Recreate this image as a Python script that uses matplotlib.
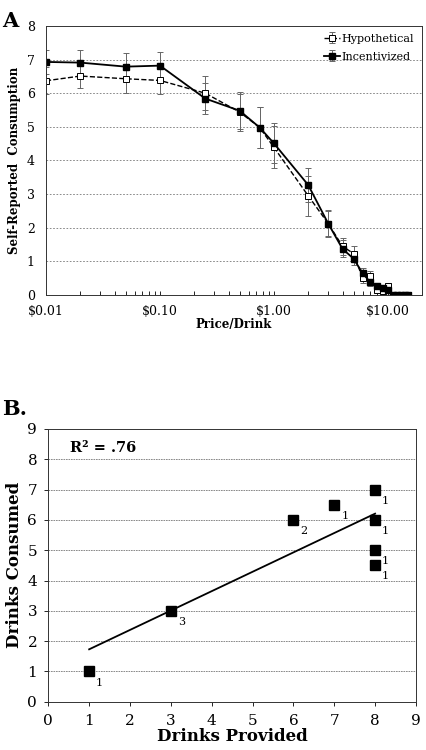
import numpy as np
import matplotlib
matplotlib.use("Agg")
import matplotlib.pyplot as plt
from matplotlib.ticker import FixedLocator, LogLocator, NullFormatter

plt.rcParams["font.family"] = ["DejaVu Serif"]

# Panel A: purchase task demand curves
prices = [0.01, 0.02, 0.05, 0.10, 0.25, 0.50, 0.75, 1, 2, 3, 4, 5, 6, 7, 8, 9, 10,
          11, 12, 13, 14, 15]
hyp_mean = [6.37, 6.51, 6.43, 6.38, 6.00, 5.44, 4.98, 4.39, 2.95, 2.12, 1.45, 1.23,
            0.50, 0.55, 0.15, 0.12, 0.28, 0, 0, 0, 0, 0]
hyp_err = [0.40, 0.36, 0.43, 0.41, 0.50, 0.55, 0.60, 0.62, 0.60, 0.38, 0.25, 0.22,
           0.15, 0.15, 0.08, 0.08, 0.08, 0, 0, 0, 0, 0]
inc_mean = [6.93, 6.91, 6.79, 6.82, 5.84, 5.48, 4.98, 4.51, 3.27, 2.12, 1.37, 1.08,
            0.65, 0.38, 0.26, 0.21, 0.16, 0, 0, 0, 0, 0]
inc_err = [0.36, 0.38, 0.40, 0.41, 0.45, 0.55, 0.62, 0.60, 0.50, 0.40, 0.25, 0.20,
           0.15, 0.10, 0.08, 0.08, 0.06, 0, 0, 0, 0, 0]
price_ticks = [0.01, 0.1, 1, 10]
price_labels = ["$0.01", "$0.10", "$1.00", "$10.00"]

# Panel B: drinks provided vs consumed, with participant counts
provided = [1, 3, 6, 7, 8, 8, 8, 8]
consumed = [1, 3, 6, 6.5, 7, 6, 5, 4.5]
counts = [1, 3, 2, 1, 1, 1, 1, 1]

fig = plt.figure(figsize=(4.26, 7.5), dpi=100)

# ---- Panel A ----
ax = fig.add_axes([0.108, 0.6067, 0.883, 0.3587])
ax.errorbar(prices, hyp_mean, yerr=hyp_err, color="black", linestyle="--",
            linewidth=1.0, marker="s", markersize=4.5, markerfacecolor="white",
            markeredgecolor="black", markeredgewidth=0.7, ecolor="#666666",
            elinewidth=0.7, capsize=2, capthick=0.7, label="Hypothetical")
ax.errorbar(prices, inc_mean, yerr=inc_err, color="black", linestyle="-",
            linewidth=1.3, marker="s", markersize=5, markerfacecolor="black",
            markeredgecolor="black", ecolor="#666666", elinewidth=0.7,
            capsize=2, capthick=0.7, label="Incentivized")
ax.set_xscale("log")
ax.set_xlim(0.01, 20)
ax.set_ylim(0, 8)
ax.xaxis.set_major_locator(FixedLocator(price_ticks))
ax.set_xticklabels(price_labels)
ax.xaxis.set_minor_locator(LogLocator(base=10, subs=np.arange(2, 10)))
ax.xaxis.set_minor_formatter(NullFormatter())
ax.tick_params(axis="x", which="both", direction="in", length=3, width=0.6,
               labelsize=9, pad=7)
ax.tick_params(axis="y", length=0, labelsize=9, pad=8)
ax.set_yticks(range(0, 9))
for yv in range(1, 8):
    ax.axhline(yv, color="#777777", linestyle=(0, (2, 2)), linewidth=0.6, zorder=0)
for s in ax.spines.values():
    s.set_linewidth(0.7)
    s.set_color("#333333")
ax.set_xlabel("Price/Drink", fontsize=8.5, fontweight="bold", labelpad=0)
ax.set_ylabel("Self-Reported  Consumption", fontsize=8.5, fontweight="bold",
              labelpad=4)
leg = ax.legend(loc="upper right", frameon=False, fontsize=8, handlelength=1.4,
                handletextpad=0.2, labelspacing=0.7, borderaxespad=0.3)
fig.text(0.005, 0.985, "A", fontsize=15, fontweight="bold", va="top", ha="left")

# ---- Panel B ----
bx = fig.add_axes([0.1134, 0.0644, 0.863, 0.3636])
bx.plot(provided, consumed, linestyle="none", marker="s", markersize=6.5,
        color="black", zorder=3)
for xv, yv, n in zip(provided, consumed, counts):
    bx.annotate(str(n), xy=(xv, yv), xytext=(5, -8), textcoords="offset points",
                fontsize=8, ha="left", va="center")
# least-squares fit with each participant counted once
x_all = np.repeat(provided, counts)
y_all = np.repeat(consumed, counts)
slope, icpt = np.polyfit(x_all, y_all, 1)
r2 = np.corrcoef(x_all, y_all)[0, 1] ** 2
xf = np.array([min(provided), max(provided)])
bx.plot(xf, slope * xf + icpt, color="black", linewidth=1.3, zorder=2)
bx.text(0.06, 0.93, f"R\u00b2 = {r2:.2f}".replace("0.", "."), transform=bx.transAxes,
        fontsize=10.5, fontweight="bold", va="center", ha="left")
bx.set_xlim(0, 9)
bx.set_ylim(0, 9)
bx.set_xticks(range(0, 10))
bx.set_yticks(range(0, 10))
for yv in range(1, 9):
    bx.axhline(yv, color="#777777", linestyle=(0, (2, 1)), linewidth=0.6, zorder=0)
bx.tick_params(axis="x", direction="out", length=3, width=0.6, labelsize=11, pad=6)
bx.tick_params(axis="y", direction="out", length=3, width=0.6, labelsize=11, pad=5)
for s in bx.spines.values():
    s.set_linewidth(0.7)
    s.set_color("#333333")
bx.set_xlabel("Drinks Provided", fontsize=12, fontweight="bold", labelpad=0)
bx.set_ylabel("Drinks Consumed", fontsize=12, fontweight="bold", labelpad=3)
fig.text(0.005, 0.468, "B.", fontsize=15, fontweight="bold", va="top", ha="left")

fig.savefig("out.png", dpi=100)
